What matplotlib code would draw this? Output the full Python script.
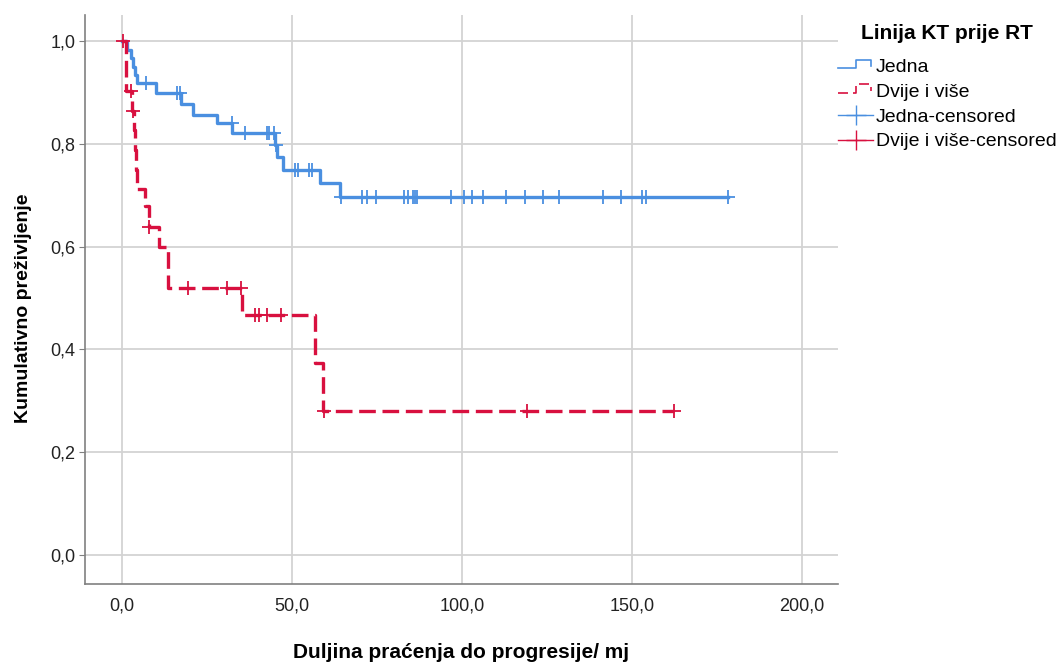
import matplotlib
matplotlib.use("Agg")
import matplotlib.pyplot as plt
import numpy as np
from matplotlib.lines import Line2D
from matplotlib.legend_handler import HandlerBase

plt.rcParams['font.family'] = ['Liberation Sans', 'DejaVu Sans']

# Jedna (one line of chemotherapy)
jedna_t = [0, 1.5, 2.5, 3.3, 3.8, 4.5, 9.9, 17.4, 21.0, 27.8, 32.4, 44.9, 45.6, 47.2, 58.1, 64.2]
jedna_s = [1.0, 0.982, 0.966, 0.950, 0.934, 0.918, 0.898, 0.877, 0.856, 0.840, 0.821, 0.798, 0.775,
           0.750, 0.723, 0.696]
jedna_end = 178.3
jedna_cens = [7.0, 16.3, 17.1, 32.2, 36.1, 42.7, 43.2, 44.7, 45.3, 50.9, 51.9, 55.0, 56.0, 64.5,
              70.7, 72.0, 74.6, 82.9, 84.1, 85.7, 86.2, 86.9, 96.9, 100.6, 102.8, 106.2, 113.0,
              118.5, 123.8, 128.5, 141.5, 146.7, 153.0, 154.0, 178.3]

# Dvije i vise (two or more)
dvije_t = [0, 1.2, 2.9, 3.4, 3.7, 4.0, 4.3, 6.8, 7.9, 11.0, 13.4, 35.2, 56.8, 59.1]
dvije_s = [1.0, 0.902, 0.864, 0.826, 0.788, 0.750, 0.712, 0.679, 0.639, 0.600, 0.519, 0.467,
           0.373, 0.280]
dvije_end = 162.4
dvije_cens = [0.4, 2.6, 3.1, 8.0, 19.4, 30.8, 35.0, 39.0, 40.3, 42.6, 46.9, 59.4, 119.0, 162.4]

blue = '#4a8fe0'
red = '#d8103f'


def step_at(times, surv, t):
    i = np.searchsorted(times, t, side='right') - 1
    return np.array(surv)[i]


class StepHandler(HandlerBase):
    def create_artists(self, legend, orig_handle, xdescent, ydescent, width, height, fontsize, trans):
        x0 = -xdescent
        xs = [x0, x0 + 0.5 * width, x0 + 0.5 * width, x0 + 0.95 * width, x0 + 0.95 * width]
        ys = [0.3 * height, 0.3 * height, 0.9 * height, 0.9 * height, 0.45 * height]
        ln = Line2D(xs, ys, color=orig_handle.get_color(), lw=1.2,
                    linestyle=orig_handle.get_linestyle())
        if orig_handle.get_linestyle() != '-':
            ln.set_dashes((6, 3))
        ln.set_transform(trans)
        return [ln]


fig = plt.figure(figsize=(10.62, 6.62), dpi=100)
ax = fig.add_axes([85 / 1062, 1 - 584 / 662, (838 - 85) / 1062, (584 - 15) / 662])

t1 = jedna_t + [jedna_end]
s1 = jedna_s + [jedna_s[-1]]
t2 = dvije_t + [dvije_end]
s2 = dvije_s + [dvije_s[-1]]

l1, = ax.step(t1, s1, where='post', color=blue, lw=2.4, zorder=3)
l2, = ax.step(t2, s2, where='post', color=red, lw=2.4, linestyle='--', dashes=(5, 2), zorder=3)
c1, = ax.plot(jedna_cens, step_at(jedna_t, jedna_s, jedna_cens), linestyle='none', marker='+',
              markersize=10, mew=1.3, color=blue, zorder=4)
c2, = ax.plot(dvije_cens, step_at(dvije_t, dvije_s, dvije_cens), linestyle='none', marker='+',
              markersize=10, mew=1.3, color=red, zorder=4)

ax.set_xlim(-10.9, 210.6)
ax.set_ylim(-0.0564, 1.0506)
ax.set_xticks([0, 50, 100, 150, 200])
ax.set_xticklabels(['0,0', '50,0', '100,0', '150,0', '200,0'])
ax.set_yticks([0, 0.2, 0.4, 0.6, 0.8, 1.0])
ax.set_yticklabels(['0,0', '0,2', '0,4', '0,6', '0,8', '1,0'])
ax.grid(True, color='#d3d3d3', lw=1.3)
ax.set_axisbelow(True)
for s in ['top', 'right']:
    ax.spines[s].set_visible(False)
for s in ['left', 'bottom']:
    ax.spines[s].set_color('#808080')
    ax.spines[s].set_linewidth(1.2)
ax.tick_params(axis='y', length=4, color='#808080', labelsize=13, labelcolor='#222222', pad=3)
ax.tick_params(axis='x', length=0, labelsize=13, labelcolor='#222222', pad=10)

ax.set_xlabel('Duljina praćenja do progresije/ mj', fontsize=15, fontweight='bold', labelpad=20)
ax.set_ylabel('Kumulativno preživljenje', fontsize=14, fontweight='bold')
ax.yaxis.set_label_coords(-0.070, 0.484)

h3 = Line2D([0], [0], color=blue, lw=1.0, marker='+', markersize=15, mew=1.0)
h4 = Line2D([0], [0], color=red, lw=1.0, marker='+', markersize=15, mew=1.0)
leg = fig.legend([l1, l2, h3, h4], ['Jedna', 'Dvije i više', 'Jedna-censored', 'Dvije i više-censored'],
                 loc='upper left', bbox_to_anchor=(838 / 1062, 1 - 24 / 662), frameon=False,
                 fontsize=14, title='Linija KT prije RT',
                 title_fontproperties={'weight': 'bold', 'size': 15},
                 handlelength=1.8, handletextpad=0.15, labelspacing=0.37, borderaxespad=0,
                 borderpad=0, handler_map={l1: StepHandler(), l2: StepHandler()})
leg._legend_box.sep = 11

fig.savefig('out.png', dpi=100)
